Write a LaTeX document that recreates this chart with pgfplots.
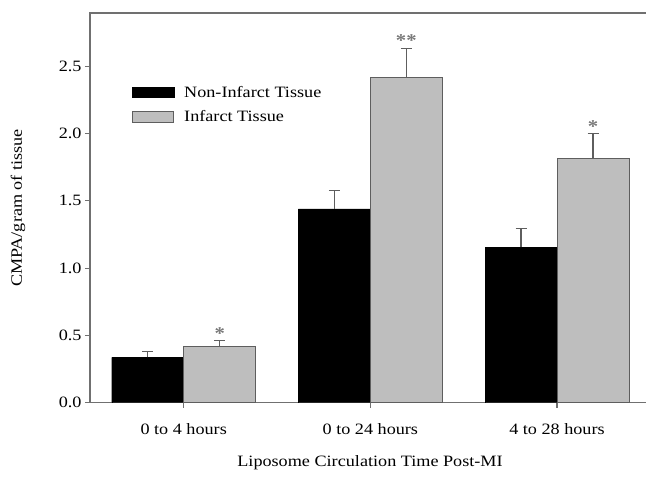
\documentclass[border=0pt]{standalone}
\usepackage{pgfplots}
\pgfplotsset{compat=1.18}
\usepackage{fontspec}
\setmainfont{Liberation Serif}[FakeStretch=1.15]
\definecolor{barg}{HTML}{BEBEBE}
\definecolor{edgeg}{HTML}{5E5E5E}
\definecolor{axg}{HTML}{707070}
\definecolor{starg}{HTML}{7A7A7A}
\begin{document}
\begin{tikzpicture}
\useasboundingbox (-90bp,-80.3bp) rectangle (556bp,402.7bp);
\begin{axis}[
  at={(0,0)}, anchor=south west,
  scale only axis, width=560.7bp, height=389.7bp,
  xmin=-0.502, xmax=2.502, ymin=0, ymax=2.895,
  axis line style={axg, line width=1.1bp},
  xtick={0,1,2},
  xticklabels={0 to 4 hours, 0 to 24 hours, 4 to 28 hours},
  ytick={0,0.5,1,1.5,2,2.5},
  yticklabel style={/pgf/number format/.cd, fixed, fixed zerofill, precision=1},
  /pgf/number format/assume math mode=true,
  xtick pos=bottom, ytick pos=left,
  tick align=outside, major tick length=5bp,
  every tick/.style={axg, line width=1.1bp},
  ticklabel style={font=\fontsize{15.8bp}{18bp}\selectfont},
  xticklabel style={yshift=-12bp},
  xlabel={Liposome Circulation Time Post-MI},
  ylabel={CMPA/gram of tissue},
  every axis x label/.style={at={(axis description cs:0.4994,-0.155)}, anchor=center, font=\fontsize{15.8bp}{18bp}\selectfont},
  every axis y label/.style={at={(axis description cs:-0.1284,0.4996)}, rotate=90, anchor=center, font=\fontsize{15.8bp}{18bp}\selectfont},
  legend style={at={(axis description cs:0.0744,0.8178)}, anchor=north west,
    draw=none, fill=none, inner sep=0pt, outer sep=0pt, row sep=8bp,
    font=\fontsize{15.8bp}{18bp}\selectfont,
    /tikz/every odd column/.append style={column sep=8bp}},
  legend cell align=left,
  error bars/y dir=plus, error bars/y explicit,
  error bars/error bar style={edgeg, line width=1.2bp},
  error bars/error mark options={edgeg, line width=1.2bp, mark size=5.5bp, rotate=90},
]
\addplot[ybar, bar width=0.3857, bar shift=0pt, fill=black, draw=black,
  legend image code/.code={\draw[fill=black,draw=black] (0bp,-5.3bp) rectangle (41.6bp,5.3bp);}]
  coordinates {(-0.19285,0.337) +- (0,0.045) (0.80715,1.439) +- (0,0.136) (1.80715,1.154) +- (0,0.139)};
\addlegendentry{Non-Infarct Tissue}
\addplot[ybar, bar width=0.3857, bar shift=0pt, fill=barg, draw=edgeg, line width=0.9bp,
  legend image code/.code={\draw[fill=barg,draw=edgeg,line width=0.9bp] (0bp,-5.3bp) rectangle (41.6bp,5.3bp);}]
  coordinates {(0.19285,0.416) +- (0,0.048) (1.19285,2.418) +- (0,0.215) (2.19285,1.813) +- (0,0.187)};
\addlegendentry{Infarct Tissue}
\addplot[forget plot, only marks, mark=text, text mark={\fontsize{18bp}{18bp}\selectfont\bfseries\color{starg}*}]
  coordinates {(0.19285,0.51) (2.19285,2.055)};
\addplot[forget plot, only marks, mark=text, text mark={\fontsize{18bp}{18bp}\selectfont\bfseries\color{starg}**}]
  coordinates {(1.19285,2.69)};
\end{axis}
\end{tikzpicture}
\end{document}
